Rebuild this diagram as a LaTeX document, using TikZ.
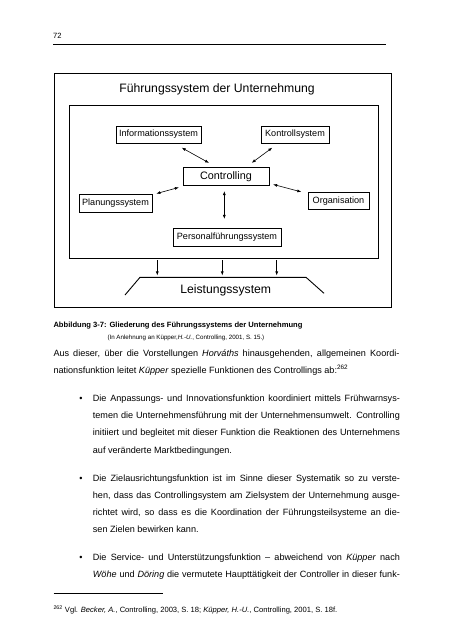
\documentclass[tikz,border=0pt]{standalone}
\usepackage{fontspec}
\setmainfont{Liberation Sans}
\usetikzlibrary{arrows.meta,calc}
\begin{document}
\begin{tikzpicture}[x=1pt,y=-1pt,
  bx/.style={draw,line width=0.8pt,inner sep=0pt,font=\fontsize{9.1}{10}\selectfont},
  frame/.style={draw,line width=1pt,inner sep=0pt},
  dbl/.style={{Latex[length=4pt,width=3pt]}-{Latex[length=4pt,width=3pt]},line width=0.6pt},
  dn/.style={-{Latex[length=4pt,width=3pt]},line width=0.6pt},
  big/.style={inner sep=0pt,font=\fontsize{12.2}{14}\selectfont},
  body/.style={anchor=base west,inner sep=0pt,font=\fontsize{9.1}{11}\selectfont},
  small/.style={anchor=base west,inner sep=0pt,font=\fontsize{7.6}{9}\selectfont},
  tiny/.style={anchor=base west,inner sep=0pt,font=\fontsize{6.2}{7}\selectfont},
  bul/.style={anchor=base,inner sep=0pt,font=\fontsize{9.1}{11}\selectfont}]
\useasboundingbox (0,0) rectangle (452,640);
% header
\node[small] (pageno) at (53,38.8) {72};
\coordinate (hl) at (53,44);
\coordinate (hr) at (386,44);
\draw[line width=0.9pt] (hl) -- (hr);
% frames
\node[frame,minimum width=337pt,minimum height=234.5pt] (outer) at (222.5,190.25) {};
\node[big] (title) at (217,89.5) {Führungssystem der Unternehmung};
\node[draw,line width=0.9pt,inner sep=0pt,minimum width=309pt,minimum height=152.6pt] (inner) at (223.8,182) {};
% boxes
\node[bx,minimum width=85pt,minimum height=17pt] (info) at (158.5,134.5) {Informationssystem};
\node[bx,minimum width=68pt,minimum height=17pt] (kontr) at (295,134.5) {Kontrollsystem};
\node[bx,minimum width=86pt,minimum height=18pt,font=\fontsize{10.8}{12}\selectfont] (ctrl) at (226,176.5) {Controlling};
\node[bx,minimum width=73pt,minimum height=18pt] (plan) at (115.5,203) {Planungssystem};
\node[bx,minimum width=61pt,minimum height=17.5pt] (org) at (338.5,200.75) {Organisation};
\node[bx,minimum width=108pt,minimum height=18pt] (pers) at (227,237) {Personalführungssystem};
% arrows
\draw[dbl] ([xshift=23.2pt,yshift=-4.3pt]info.south) -- ([xshift=-17pt,yshift=4.2pt]ctrl.north);
\draw[dbl] ([xshift=-22.7pt,yshift=-4.3pt]kontr.south) -- ([xshift=25.7pt,yshift=4.2pt]ctrl.north);
\draw[dbl] ([xshift=4pt]plan.north east) -- ([xshift=-3.7pt,yshift=-1.5pt]ctrl.south west);
\draw[dbl] ([xshift=3.7pt,yshift=1.5pt]ctrl.south east) -- ([xshift=-6.3pt,yshift=-0.3pt]org.north west);
\draw[dbl] ([xshift=-1.7pt,yshift=-5.2pt]ctrl.south) -- ([xshift=-2.7pt,yshift=8.7pt]pers.north);
% Leistungssystem
\coordinate (lb) at (125,295);
\coordinate (lt) at (140,277.3);
\coordinate (rt) at (306,277.3);
\coordinate (rb) at (324,293.3);
\draw[line width=0.9pt] (lb) -- (lt) -- (rt) -- (rb);
\node[big] (leist) at (225.7,290.5) {Leistungssystem};
\draw[dn] ([xshift=-66.5pt,yshift=-1.7pt]inner.south) -- ([xshift=-66.5pt,yshift=-16.7pt]inner.south);
\draw[dn] ([xshift=-1.5pt,yshift=-1.7pt]inner.south) -- ([xshift=-1.5pt,yshift=-16.7pt]inner.south);
\draw[dn] ([xshift=52.9pt,yshift=-1.7pt]inner.south) -- ([xshift=52.9pt,yshift=-16.7pt]inner.south);
% caption
\node[small,font=\fontsize{7.6}{9}\selectfont\bfseries] (cap) at (53.3,327.8) {Abbildung 3-7: Gliederung des Führungssystems der Unternehmung};
\node[tiny] (src) at (107.3,339.2) {(In Anlehnung an Küpper,\textit{H.-U.}, Controlling, 2001, S. 15.)};
% paragraph
\node[body] (p1) at (53.3,356.2) {\makebox[346pt][s]{Aus dieser, über die Vorstellungen \textit{Horváths} hinausgehenden, allgemeinen Koordi-}};
\node[body] (p2) at (53.3,373.4) {nationsfunktion leitet \textit{Küpper} spezielle Funktionen des Controllings ab:\textsuperscript{262}};
% bullet 1
\node[bul] (b1) at (81,401.4) {\textbullet};
\node[body] (b1a) at (92.7,401.4) {\makebox[307pt][s]{Die Anpassungs- und Innovationsfunktion koordiniert mittels Frühwarnsys-}};
\node[body] (b1b) at (92.7,418.6) {\makebox[307pt][s]{temen die Unternehmensführung mit der Unternehmensumwelt. Controlling}};
\node[body] (b1c) at (92.7,435.8) {\makebox[307pt][s]{initiiert und begleitet mit dieser Funktion die Reaktionen des Unternehmens}};
\node[body] (b1d) at (92.7,453) {auf veränderte Marktbedingungen.};
% bullet 2
\node[bul] (b2) at (81,481) {\textbullet};
\node[body] (b2a) at (92.7,481) {\makebox[307pt][s]{Die Zielausrichtungsfunktion ist im Sinne dieser Systematik so zu verste-}};
\node[body] (b2b) at (92.7,498.2) {\makebox[307pt][s]{hen, dass das Controllingsystem am Zielsystem der Unternehmung ausge-}};
\node[body] (b2c) at (92.7,515.4) {\makebox[307pt][s]{richtet wird, so dass es die Koordination der Führungsteilsysteme an die-}};
\node[body] (b2d) at (92.7,532.6) {sen Zielen bewirken kann.};
% bullet 3
\node[bul] (b3) at (81,560.6) {\textbullet};
\node[body] (b3a) at (92.7,560.6) {\makebox[307pt][s]{Die Service- und Unterstützungsfunktion – abweichend von \textit{Küpper} nach}};
\node[body] (b3b) at (92.7,577.8) {\makebox[307pt][s]{\textit{Wöhe} und \textit{Döring} die vermutete Haupttätigkeit der Controller in dieser funk-}};
% footnote
\coordinate (fl) at (53.5,593);
\coordinate (fr) at (163,593);
\draw[line width=0.9pt] (fl) -- (fr);
\node[small] (fn) at (53.3,612.7) {\textsuperscript{262} Vgl. \textit{Becker, A.}, Controlling, 2003, S. 18; \textit{Küpper, H.-U.}, Controlling, 2001, S. 18f.};
\end{tikzpicture}
\end{document}
